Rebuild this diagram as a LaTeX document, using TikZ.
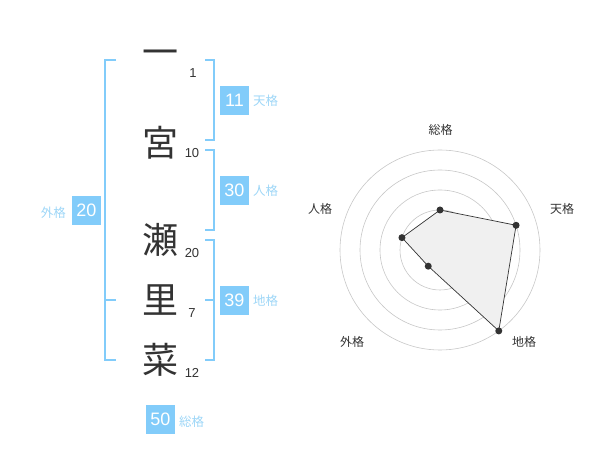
\documentclass[tikz,border=0pt]{standalone}
\usepackage{fontspec}
\setmainfont{Liberation Sans}
\newfontfamily\jp{Noto Sans CJK JP}
\usepackage{xcolor}
\definecolor{kakublue}{HTML}{82CCFA}
\definecolor{kakulabel}{HTML}{9DD6F7}
\definecolor{ink}{HTML}{333333}

\tikzset{
    kanji/.style = {text=ink, font=\jp\fontsize{36}{36}\selectfont, inner sep=0pt},
    strokes/.style = {text=ink, font=\fontsize{13}{13}\selectfont, inner sep=0pt},
    score/.style = {fill=kakublue, text=white, minimum size=29pt, inner sep=0pt, font=\fontsize{18}{18}\selectfont},
    kaku/.style = {text=kakulabel, font=\jp\fontsize{12.5}{12.5}\selectfont, inner sep=0pt},
    brace/.style = {draw=kakublue, line width=2pt},
    axis/.style = {text=ink, font=\jp\fontsize{12}{12}\selectfont, inner sep=0pt},
    ring/.style = {draw=black!22, line width=0.6pt},
    dot/.style = {circle, fill=ink, minimum size=7pt, inner sep=0pt},
}

\begin{document}
\begin{tikzpicture}[x=1pt, y=-1pt]
    \useasboundingbox (0,0) rectangle (600,470);

    % name and stroke counts
    \node(k1) [kanji] at (160,58) {一};
    \node(k2) [kanji] at (160,142.5) {宮};
    \node(k3) [kanji] at (160,239.5) {瀬};
    \node(k4) [kanji] at (160,300) {里};
    \node(k5) [kanji] at (160,360) {菜};
    \node(n1) [strokes] at (193,73) {1};
    \node(n2) [strokes] at (192,153) {10};
    \node(n3) [strokes] at (192,253) {20};
    \node(n4) [strokes] at (192,313) {7};
    \node(n5) [strokes] at (192,373) {12};

    % brackets
    \draw[brace] (116,60) -- (105,60) -- (105,360) -- (116,360)
                 (105,300) -- (116,300);
    \draw[brace] (205,60) -- (214,60) -- (214,140) -- (205,140);
    \draw[brace] (205,150) -- (214,150) -- (214,230) -- (205,230);
    \draw[brace] (205,240) -- (214,240) -- (214,360) -- (205,360)
                 (214,300) -- (205,300);

    % scores
    \node(ten) [score] at (234.5,100.5) {11};
    \node(jin) [score] at (234.5,190.5) {30};
    \node(chi) [score] at (234.5,300.5) {39};
    \node(gai) [score] at (86.5,210.5) {20};
    \node(sou) [score] at (160.5,419.5) {50};
    \node[kaku, anchor=west] at (253,101) {天格};
    \node[kaku, anchor=west] at (253,191) {人格};
    \node[kaku, anchor=west] at (253,301) {地格};
    \node[kaku, anchor=east] at (66,213) {外格};
    \node[kaku, anchor=west] at (179,422) {総格};

    % radar chart
    \coordinate (ctr) at (440,250);
    \foreach \r in {20,40,60,80,100}
        \draw[ring] (ctr) circle[radius=\r pt];
    \fill[black!25] (ctr) circle[radius=3.5pt];
    \path (ctr) ++(90:40pt) coordinate (p1)
          (ctr) ++(18:80pt) coordinate (p2)
          (ctr) ++(-54:100pt) coordinate (p3)
          (ctr) ++(-126:20pt) coordinate (p4)
          (ctr) ++(162:40pt) coordinate (p5);
    \draw[fill=black!6, draw=ink, line width=0.7pt] (p1) -- (p2) -- (p3) -- (p4) -- (p5) -- cycle;
    \foreach \p in {p1,p2,p3,p4,p5}
        \node[dot] at (\p) {};
    \node(a1) [axis] at (440.5,130) {総格};
    \node(a2) [axis] at (562,208.5) {天格};
    \node(a3) [axis] at (524,342) {地格};
    \node(a4) [axis] at (352,342) {外格};
    \node(a5) [axis] at (320,208.5) {人格};
\end{tikzpicture}
\end{document}
